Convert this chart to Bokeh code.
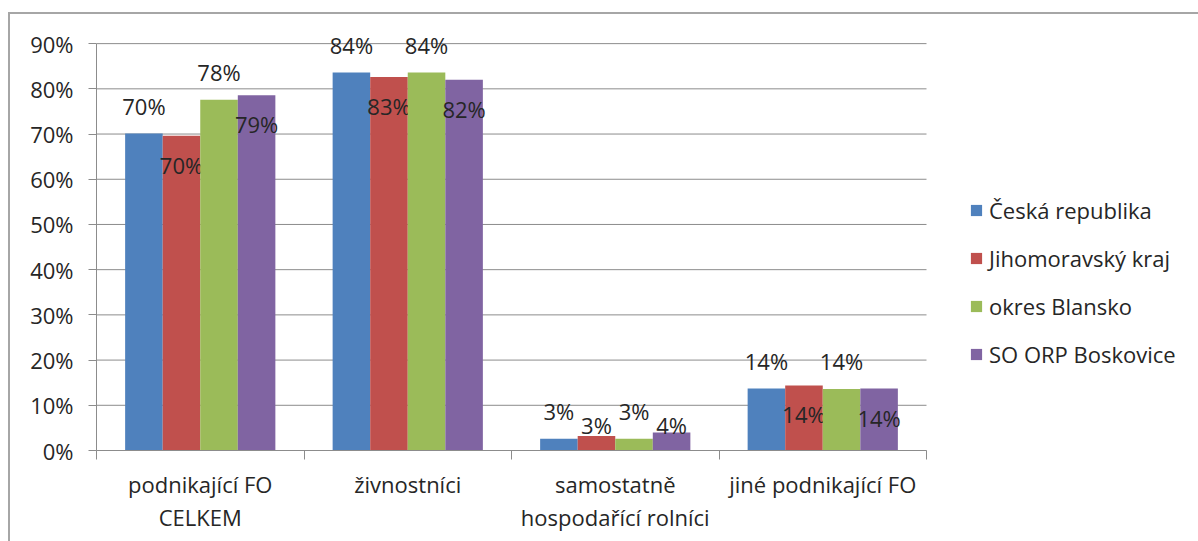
from bokeh.plotting import figure
from bokeh.layouts import column
from bokeh.models import (ColumnDataSource, Range1d, FixedTicker, PrintfTickFormatter,
                          Legend, LegendItem)
from bokeh.core.properties import value
from bokeh.transform import dodge
from bokeh.embed import file_html
from bokeh.resources import INLINE

# ---------------- data ----------------
categories = ["podnikající FO\nCELKEM", "živnostníci",
              "samostatně\nhospodařící rolníci", "jiné podnikající FO"]
series_names = ["Česká republika", "Jihomoravský kraj", "okres Blansko", "SO ORP Boskovice"]
ceska_republika = [70.1, 83.6, 2.6, 13.7]
jihomoravsky_kraj = [69.6, 82.6, 3.2, 14.4]
okres_blansko = [77.6, 83.6, 2.6, 13.6]
so_orp_boskovice = [78.6, 82.0, 4.0, 13.7]
y_ticks = [0, 10, 20, 30, 40, 50, 60, 70, 80, 90]

series_values = [ceska_republika, jihomoravsky_kraj, okres_blansko, so_orp_boskovice]
colors = ["#4F81BD", "#C0504D", "#9BBB59", "#8064A2"]

FONT = "Open Sans"
FS = "22px"
TXT = "#262626"
GRID = "#8c8c8c"

W, H = 1188, 527
ML, MR, MT, MB = 86, 0, 2, 91
CAT_PX = 830          # pixel width of the category area
Y_TOP = 96
n = len(categories)
frame_w = W - ML - MR
frame_h = H - MT - MB
ppu = frame_h / Y_TOP
X_END = n * frame_w / CAT_PX

p = figure(width=W, height=H, output_backend="svg", toolbar_location=None,
           x_range=Range1d(0, X_END), y_range=Range1d(0, Y_TOP),
           min_border_left=ML, min_border_right=MR, min_border_top=MT, min_border_bottom=MB,
           tools="")
p.outline_line_color = None
p.background_fill_color = "white"
p.border_fill_color = "white"

# horizontal gridlines limited to the category area
p.xgrid.grid_line_color = None
p.ygrid.grid_line_color = None
p.segment(x0=[0] * len(y_ticks), x1=[n] * len(y_ticks), y0=y_ticks, y1=y_ticks,
          line_color=GRID, line_width=1)

centers = [i + 0.5 for i in range(n)]
bw = 0.181
offsets = [(-1.5 + k) * bw for k in range(4)]

items = []
for k, (name, vals) in enumerate(zip(series_names, series_values)):
    if k % 2 == 0:
        yoff = [-28.0 for v in vals]
    else:
        yoff = [min(29.0, v * ppu - 26.0) for v in vals]
    src = ColumnDataSource(dict(x=centers, top=vals,
                                label=[f"{int(v + 0.5)}%" for v in vals],
                                yoff=yoff))
    r = p.vbar(x=dodge("x", offsets[k], range=p.x_range), top="top", bottom=0,
               width=bw, source=src, fill_color=colors[k], line_color=None)
    p.text(x=dodge("x", offsets[k], range=p.x_range), y="top", text="label",
           y_offset="yoff", source=src, text_align="center", text_baseline="middle",
           text_font=value(FONT), text_font_size=FS, text_color=TXT)
    items.append(LegendItem(label=name, renderers=[r]))

# y axis
yax = p.yaxis[0]
yax.ticker = FixedTicker(ticks=y_ticks)
yax.bounds = (y_ticks[0], y_ticks[-1])
yax.formatter = PrintfTickFormatter(format="%d%%")
yax.major_label_text_font = FONT
yax.major_label_text_font_size = FS
yax.major_label_text_color = TXT
yax.axis_line_color = GRID
yax.major_tick_line_color = GRID
yax.major_tick_out = 8
yax.major_tick_in = 0
yax.minor_tick_line_color = None
yax.major_label_standoff = 15

# x axis
xax = p.xaxis[0]
xax.ticker = FixedTicker(ticks=centers, minor_ticks=list(range(n + 1)))
xax.bounds = (0, n)
xax.major_label_overrides = {c: lab for c, lab in zip(centers, categories)}
xax.major_label_text_font = FONT
xax.major_label_text_font_size = FS
xax.major_label_text_color = TXT
xax.major_label_text_line_height = 1.12
xax.axis_line_color = GRID
xax.major_tick_line_color = None
xax.minor_tick_line_color = GRID
xax.minor_tick_out = 9
xax.minor_tick_in = 0
xax.major_label_standoff = 9

legend = Legend(items=items, location=(873, 81), orientation="vertical",
                label_text_font=FONT, label_text_font_size=FS, label_text_color=TXT,
                glyph_width=14, glyph_height=14, label_height=25, spacing=18,
                label_standoff=6, padding=0, margin=0, border_line_color=None,
                background_fill_alpha=0)
p.add_layout(legend, "center")

root = column(p, styles={"border-top": "2px solid #a6a6a6",
                         "border-left": "2px solid #a6a6a6",
                         "margin-top": "12px", "margin-left": "8px"})

open("out.html", "w").write(file_html(root, INLINE))
